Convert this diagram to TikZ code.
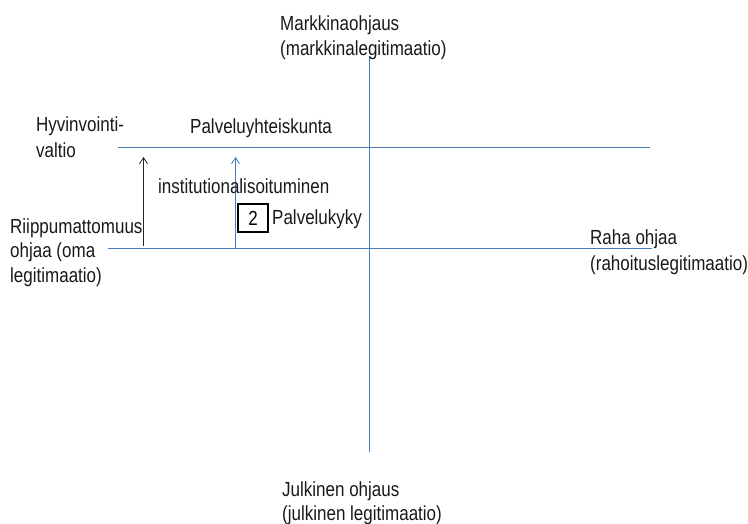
\documentclass[tikz,border=0pt]{standalone}
\usepackage{fontspec}
\setmainfont{Liberation Sans}
\usetikzlibrary{arrows.meta}
\definecolor{axisblue}{RGB}{70,124,186}
\newcommand{\tallt}[1]{\scalebox{1}[1.2]{#1}}
\tikzset{
  lbl/.style={anchor=base west, inner sep=0pt, font=\fontsize{17}{24.5}\selectfont, text=black!90},
  axis/.style={draw=axisblue, line width=1.2pt},
  rise/.style={line width=1pt, -{Straight Barb[length=6pt,width=8pt,line width=0.8pt]}},
  numbox/.style={draw=black, line width=2pt, minimum width=30pt, minimum height=28pt, inner sep=0pt, font=\fontsize{17}{20}\selectfont}
}
\begin{document}
\begin{tikzpicture}[x=1pt,y=-1pt]
\useasboundingbox (0,0) rectangle (748,524);

% axis end points
\coordinate (vtop) at (369.5,56);
\coordinate (vbot) at (369.5,452);
\coordinate (uleft) at (118,147.5);
\coordinate (uright) at (650,147.5);
\coordinate (hleft) at (108,248.5);
\coordinate (hright) at (652,248.5);

% axes and upper level line
\draw[axis] (vtop) -- (vbot);
\draw[axis] (uleft) -- (uright);
\draw[axis] (hleft) -- (hright);

% development arrows
\coordinate (a1s) at (143.5,246);
\coordinate (a1e) at (143.5,157);
\coordinate (a2s) at (235.5,248);
\coordinate (a2e) at (235.5,157);
\draw[rise, draw=black!85] (a1s) -- (a1e);
\draw[rise, draw=axisblue] (a2s) -- (a2e);

% labels
\node[lbl] (m1) at (280,31) {\tallt{Markkinaohjaus}};
\node[lbl] (m2) at (280,56) {\tallt{(markkinalegitimaatio)}};
\node[lbl] (h1) at (36,132) {\tallt{Hyvinvointi-}};
\node[lbl] (h2) at (36,158) {\tallt{valtio}};
\node[lbl] (py) at (190,134) {\tallt{Palveluyhteiskunta}};
\node[lbl] (in) at (158,194) {\tallt{institutionalisoituminen}};
\node[numbox] (n2) at (253,218) {\tallt{2}};
\node[lbl] (pk) at (272,225) {\tallt{Palvelukyky}};
\node[lbl] (r1) at (10,234) {\tallt{Riippumattomuus}};
\node[lbl] (r2) at (10,258) {\tallt{ohjaa (oma}};
\node[lbl] (r3) at (10,283) {\tallt{legitimaatio)}};
\node[lbl] (ra1) at (590,245) {\tallt{Raha ohjaa}};
\node[lbl] (ra2) at (590,270) {\tallt{(rahoituslegitimaatio)}};
\node[lbl] (j1) at (282,496) {\tallt{Julkinen ohjaus}};
\node[lbl] (j2) at (282,520) {\tallt{(julkinen legitimaatio)}};
\end{tikzpicture}
\end{document}
